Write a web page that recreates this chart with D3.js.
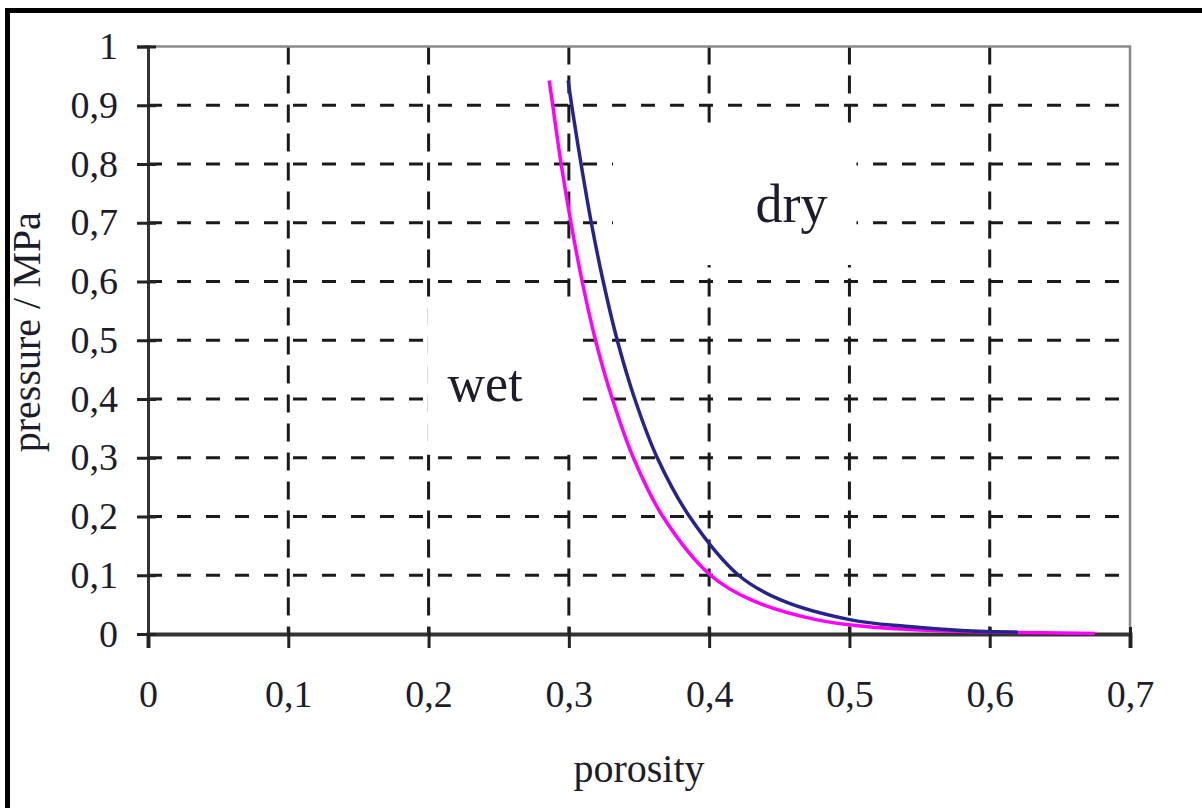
<!DOCTYPE html>
<html>
<head>
<meta charset="utf-8">
<script src="https://cdn.jsdelivr.net/npm/d3@7"></script>
<style>
  body { margin: 0; background: #fff; }
  text { font-family: "Liberation Serif", "Times New Roman", serif; fill: #1c1c2a; }
</style>
</head>
<body>
<div id="chart-area"></div>
<script>
// values
const navyPorosity = [0.2995, 0.302, 0.3087, 0.316, 0.3245, 0.3345, 0.347, 0.363, 0.386, 0.421, 0.451, 0.501, 0.54, 0.58, 0.62];
const navyPressure = [0.942, 0.9, 0.8, 0.7, 0.6, 0.5, 0.4, 0.3, 0.2, 0.1, 0.058, 0.024, 0.013, 0.006, 0.003];

const pinkPorosity = [0.286, 0.2885, 0.2945, 0.3015, 0.3095, 0.319, 0.331, 0.346, 0.367, 0.401, 0.430, 0.477, 0.515, 0.56, 0.61, 0.675];
const pinkPressure = [0.942, 0.9, 0.8, 0.7, 0.6, 0.5, 0.4, 0.3, 0.2, 0.1, 0.058, 0.024, 0.012, 0.006, 0.003, 0.001];

const xTicks = [0, 0.1, 0.2, 0.3, 0.4, 0.5, 0.6, 0.7];
const yTicks = [0, 0.1, 0.2, 0.3, 0.4, 0.5, 0.6, 0.7, 0.8, 0.9, 1];

const W = 1202, H = 808;
const margin = {left: 148, right: 72, top: 46.5, bottom: 174};
const width = W - margin.left - margin.right;
const height = H - margin.top - margin.bottom;

const svg = d3.select('#chart-area')
    .append('svg')
    .attr('width', W)
    .attr('height', H);

svg.append('rect')
    .attr('width', W)
    .attr('height', H)
    .attr('fill', '#fff');

// outer frame, only top and left edges are in view
svg.append('path')
    .attr('d', `M7.5,${H + 5} V10.5 H${W + 5}`)
    .attr('fill', 'none')
    .attr('stroke', '#000')
    .attr('stroke-width', 5);

const g = svg.append('g')
    .attr('transform', `translate(${margin.left}, ${margin.top})`);

const x = d3.scaleLinear().domain([0, 0.7]).range([0, width]);
const y = d3.scaleLinear().domain([0, 1]).range([height, 0]);

const fmt = d => d === 0 ? '0' : (d === 1 ? '1' : d3.format('.1f')(d).replace('.', ','));

// dashed grid
g.append('g')
    .selectAll('line')
    .data(yTicks.filter(d => d > 0 && d < 1))
    .enter().append('line')
        .attr('x1', 0)
        .attr('x2', width)
        .attr('y1', d => y(d))
        .attr('y2', d => y(d))
        .attr('stroke', '#1a1a1a')
        .attr('stroke-width', 3)
        .attr('stroke-dasharray', '14,15');

g.append('g')
    .selectAll('line')
    .data(xTicks.filter(d => d > 0 && d < 0.7))
    .enter().append('line')
        .attr('x1', d => x(d))
        .attr('x2', d => x(d))
        .attr('y1', 0)
        .attr('y2', height)
        .attr('stroke', '#1a1a1a')
        .attr('stroke-width', 3)
        .attr('stroke-dasharray', '18,11');

// white boxes behind the two labels
const boxes = [
    {x0: 0.199, x1: 0.303, y0: 0.305, y1: 0.568},
    {x0: 0.3315, x1: 0.505, y0: 0.628, y1: 0.854}
];
g.append('g')
    .selectAll('rect')
    .data(boxes)
    .enter().append('rect')
        .attr('x', d => x(d.x0))
        .attr('y', d => y(d.y1))
        .attr('width', d => x(d.x1) - x(d.x0))
        .attr('height', d => y(d.y0) - y(d.y1))
        .attr('fill', '#fff');

// top and right edges of the plot area
g.append('path')
    .attr('d', `M-4,0 H${width} V${height}`)
    .attr('fill', 'none')
    .attr('stroke', '#8a8a8a')
    .attr('stroke-width', 2.5);

// axes
const xAxisCall = d3.axisBottom(x)
    .tickValues(xTicks)
    .tickSize(14)
    .tickFormat(fmt);
const xAxis = g.append('g')
    .attr('class', 'x axis')
    .attr('transform', `translate(0, ${height})`)
    .call(xAxisCall);
xAxis.select('.domain').attr('stroke', '#333').attr('stroke-width', 4);
xAxis.selectAll('.tick line')
    .attr('y1', -7)
    .attr('stroke', '#222')
    .attr('stroke-width', 3);
xAxis.selectAll('.tick text')
    .attr('y', 61)
    .attr('dy', '0.32em')
    .attr('font-size', '38px')
    .style('fill', '#1c1c2a');

const yAxisCall = d3.axisLeft(y)
    .tickValues(yTicks)
    .tickSize(11)
    .tickFormat(fmt);
const yAxis = g.append('g')
    .attr('class', 'y axis')
    .call(yAxisCall);
yAxis.select('.domain').attr('stroke', '#333').attr('stroke-width', 3);
yAxis.selectAll('.tick line')
    .attr('x1', 8)
    .attr('stroke', '#222')
    .attr('stroke-width', 3);
yAxis.selectAll('.tick text')
    .attr('x', -30)
    .attr('font-size', '38px')
    .style('fill', '#1c1c2a');

// curves
const line = d3.line()
    .x(d => x(d[0]))
    .y(d => y(d[1]))
    .curve(d3.curveCatmullRom.alpha(0.5));

g.append('path')
    .datum(d3.zip(pinkPorosity, pinkPressure))
    .attr('d', line)
    .attr('fill', 'none')
    .attr('stroke', '#ff00ff')
    .attr('stroke-width', 3.5);

g.append('path')
    .datum(d3.zip(navyPorosity, navyPressure))
    .attr('d', line)
    .attr('fill', 'none')
    .attr('stroke', '#26248a')
    .attr('stroke-width', 3.5);

// region labels
g.append('text')
    .attr('x', x(0.2135))
    .attr('y', y(0.396))
    .attr('font-size', '52px')
    .text('wet');

g.append('text')
    .attr('x', x(0.433))
    .attr('y', y(0.702))
    .attr('font-size', '54px')
    .text('dry');

// axis titles
g.append('text')
    .attr('x', width / 2)
    .attr('y', height + 148)
    .attr('font-size', '40px')
    .attr('text-anchor', 'middle')
    .text('porosity');

g.append('text')
    .attr('x', -(height / 2) + 8)
    .attr('y', -108)
    .attr('font-size', '40px')
    .attr('text-anchor', 'middle')
    .attr('transform', 'rotate(-90)')
    .text('pressure / MPa');
</script>
</body>
</html>
